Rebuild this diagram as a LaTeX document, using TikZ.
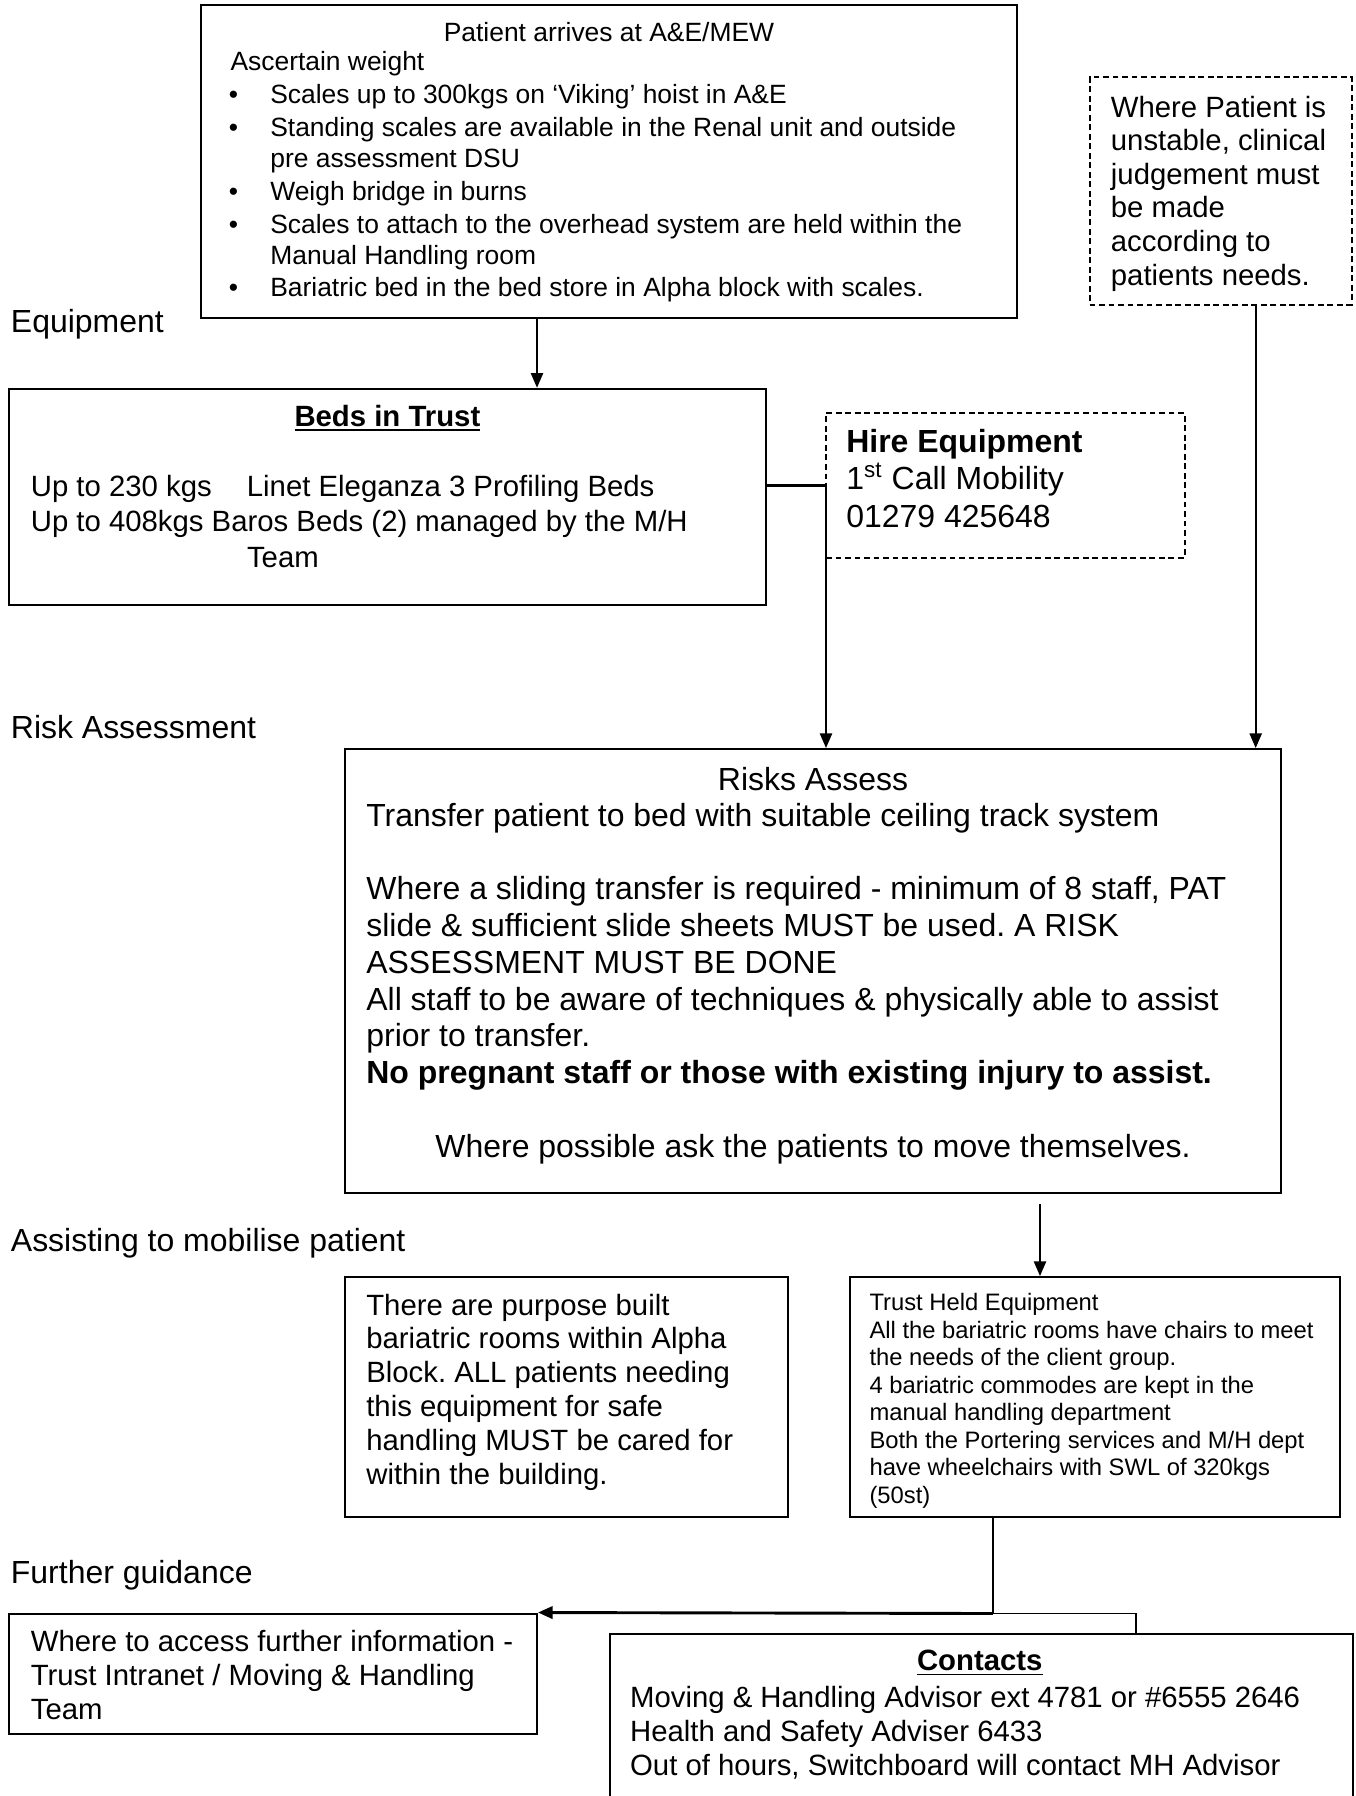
\documentclass[tikz,border=0pt]{standalone}
\usepackage{fontspec}
\setmainfont{Liberation Sans}
\usetikzlibrary{arrows.meta,fit}

\newcommand{\szA}{\fontsize{12.1}{13.8}\selectfont}
\newcommand{\szB}{\fontsize{11.1}{12.9}\selectfont}
\newcommand{\szC}{\fontsize{10}{12}\selectfont}
\newcommand{\szD}{\fontsize{9}{9}\selectfont}
\frenchspacing

\begin{document}
\begin{tikzpicture}[x=0.3785pt, y=-0.3785pt,
        box/.style={draw, line width=0.75pt, inner sep=0pt, fit={#1}},
        dbox/.style={box={#1}, dash pattern=on 2.2pt off 1.4pt},
        txt/.style={anchor=base west, inner sep=0pt},
        mid/.style={anchor=base, inner sep=0pt},
        arr/.style={line width=0.6pt, -{Triangle[length=5.5pt, width=4.6pt]}}]
        \path[use as bounding box, fill=white] (0,0) rectangle (1356,1796);

        \node[box={(200.6,5.1)(1017,317.5)}] (arrive) {};
        \node[mid, font=\szC] (arrivet) at (609,41.5) {Patient arrives at A\&E/MEW};
        \node[txt, font=\szC] (weigh) at (230,70.4) {Ascertain weight};
        \foreach \y/\t [count=\i] in {103.6/{Scales up to 300kgs on `Viking' hoist in A\&E},
                136.4/{Standing scales are available in the Renal unit and outside},
                167/{pre assessment DSU},
                200/{Weigh bridge in burns},
                233.5/{Scales to attach to the overhead system are held within the},
                264/{Manual Handling room},
                296/{Bariatric bed in the bed store in Alpha block with scales.}}{
            \node[txt, font=\szC] (scale\i) at (269.8,\y) {\t};
        }
        \foreach \y [count=\i] in {103.6,136.4,200,233.5,296}{
            \node[mid, font=\szC] (dot\i) at (233.5,\y) {\textbullet};
        }

        \node[dbox={(1089.6,77)(1351.7,304.5)}] (unstable) {};
        \foreach \t [count=\i from 0] in {Where Patient is, {unstable, clinical}, judgement must,
                be made, according to, patients needs.}{
            \node[txt, font=\szB] (unst\i) at (1110.4,117+33.6*\i) {\t};
        }

        \node[txt, font=\szA] (lequip) at (10.4,332.5) {Equipment};
        \node[box={(8.6,388.7)(766,605)}] (beds) {};
        \node[mid, font=\szB] (bedst) at (387.4,426) {\underline{\textbf{Beds in Trust}}};
        \node[txt, font=\szB] (bed1) at (30.3,496.2) {\makebox[81.8pt][l]{Up to 230 kgs}Linet Eleganza 3 Profiling Beds};
        \node[txt, font=\szB] (bed2) at (30.3,531.5) {Up to 408kgs Baros Beds (2) managed by the M/H};
        \node[txt, font=\szB] (bed3) at (246.5,567.5) {Team};

        \node[dbox={(826,413)(1184.8,557.5)}] (hire) {};
        \node[txt, font=\szA] (hire1) at (845.8,452) {\textbf{Hire Equipment}};
        \node[txt, font=\szA] (hire2) at (845.8,489) {1\textsuperscript{st} Call Mobility};
        \node[txt, font=\szA] (hire3) at (845.8,527) {01279 425648};

        \node[txt, font=\szA] (lrisk) at (10.4,738) {Risk Assessment};
        \node[box={(345,749)(1280.8,1192.6)}] (risk) {};
        \node[mid, font=\szA] (riskt) at (813,790) {Risks Assess};
        \foreach \i/\t in {0/{Transfer patient to bed with suitable ceiling track system},
                2/{Where a sliding transfer is required - minimum of 8 staff, PAT},
                3/{slide \& sufficient slide sheets MUST be used. A RISK},
                4/{ASSESSMENT MUST BE DONE},
                5/{All staff to be aware of techniques \& physically able to assist},
                6/{prior to transfer.},
                7/{\textbf{No pregnant staff or those with existing injury to assist.}}}{
            \node[txt, font=\szA] (risk\i) at (365.8,826+36.8*\i) {\t};
        }
        \node[mid, font=\szA] (riskend) at (813,1157.5) {Where possible ask the patients to move themselves.};

        \node[txt, font=\szA] (lmob) at (10.4,1251.3) {Assisting to mobilise patient};
        \node[box={(345,1277)(788,1517)}] (rooms) {};
        \foreach \t [count=\i from 0] in {There are purpose built, bariatric rooms within Alpha,
                Block. ALL patients needing, this equipment for safe,
                handling MUST be cared for, within the building.}{
            \node[txt, font=\szB] (room\i) at (365.8,1315+33.9*\i) {\t};
        }

        \node[box={(850,1277)(1340,1517)}] (held) {};
        \foreach \t [count=\i from 0] in {Trust Held Equipment, All the bariatric rooms have chairs to meet,
                the needs of the client group., 4 bariatric commodes are kept in the,
                manual handling department, Both the Portering services and M/H dept,
                have wheelchairs with SWL of 320kgs, (50st)}{
            \node[txt, font=\szD] (held\i) at (869,1310.7+27.5*\i) {\t};
        }

        \node[txt, font=\szA] (lguide) at (10.4,1583) {Further guidance};
        \node[box={(8.6,1613.5)(537,1734)}] (access) {};
        \foreach \t [count=\i from 0] in {Where to access further information -,
                Trust Intranet / Moving \& Handling, Team}{
            \node[txt, font=\szB] (acc\i) at (30.3,1651+34.3*\i) {\t};
        }

        \node[box={(609.7,1634)(1353,1830)}] (contacts) {};
        \node[mid, font=\szB] (contt) at (979.8,1670.5) {\underline{\textbf{Contacts}}};
        \foreach \t [count=\i from 0] in {Moving \& Handling Advisor ext 4781 or \#6555 2646,
                Health and Safety Adviser 6433, {Out of hours, Switchboard will contact MH Advisor}}{
            \node[txt, font=\szB] (cont\i) at (629.6,1707+34.4*\i) {\t};
        }

        \coordinate (a1) at (537,0);
        \coordinate (tee) at (826,485.6);
        \coordinate (u1) at (1255.7,0);
        \coordinate (gap) at (1040,1204);
        \coordinate (split) at (992.8,1613.5);
        \coordinate (cdrop) at (1136,0);

        \draw[arr] (arrive.south -| a1) -- (beds.north -| a1);
        \draw[line width=1.1pt] (beds.east |- tee) -- (tee);
        \draw[arr] (tee) -- (risk.north -| tee);
        \draw[arr] (unstable.south -| u1) -- (risk.north -| u1);
        \draw[arr] (gap) -- (held.north -| gap);
        \draw[line width=0.6pt] (held.south -| split) -- (split);
        \draw[arr, line width=1.1pt] (split) -- (access.north east);
        \draw[line width=0.6pt] (split) -| (contacts.north -| cdrop);
\end{tikzpicture}
\end{document}
